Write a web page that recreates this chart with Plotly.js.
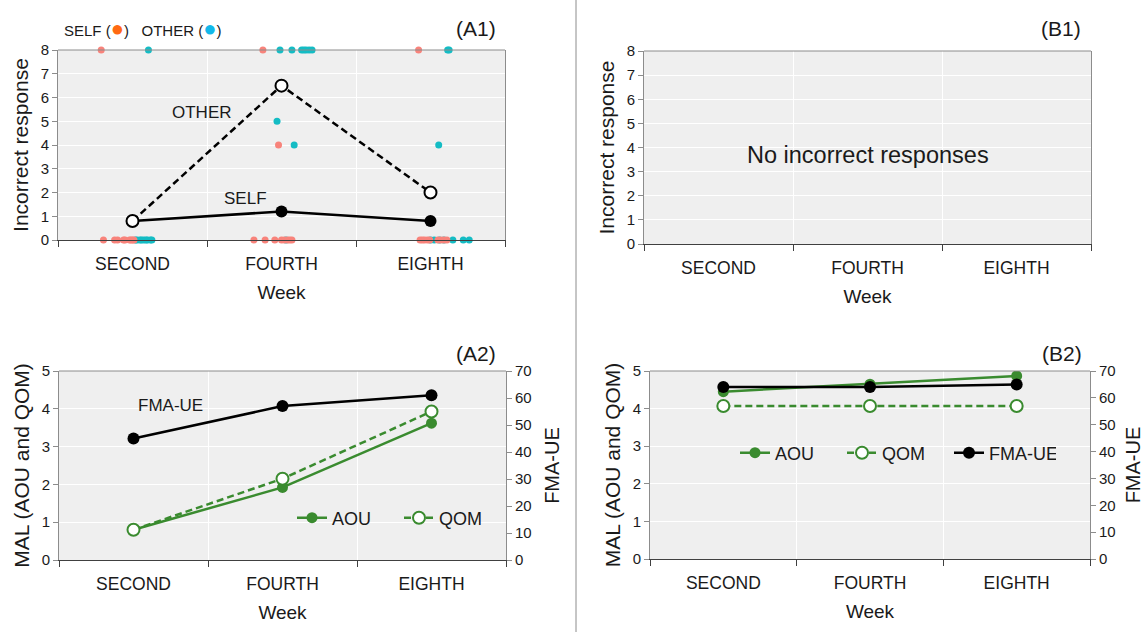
<!DOCTYPE html>
<html>
<head>
<meta charset="utf-8">
<script src="https://cdn.plot.ly/plotly-3.0.1.min.js"></script>
<style>html,body{margin:0;padding:0;background:#fff;}#chart{width:1144px;height:632px;}</style>
</head>
<body>
<div id="chart"></div>
<script>
// ---- data ----
const weeks = ['SECOND', 'FOURTH', 'EIGHTH'];

// (A1) mean incorrect responses
const selfMean = [0.8, 1.2, 0.8];
const otherMean = [0.8, 6.5, 2.0];

// (A1) individual responses: week index, horizontal jitter, value
const selfDotWeek   = [0,0,0,0,0,0,0,0,0,0, 1,1,1,1,1,1,1,1,1,1, 2,2,2,2,2,2,2,2,2,2];
const selfDotJitter = [-0.21,-0.195,-0.12,-0.10,-0.06,-0.05,-0.02,-0.01,0.0,0.01,
                       -0.125,-0.02,-0.185,-0.11,-0.045,0.0,0.02,0.04,0.055,0.07,
                       -0.08,-0.07,-0.055,-0.04,-0.02,-0.005,0.05,0.07,0.09,0.11];
const selfDotValue  = [8,0,0,0,0,0,0,0,0,0,
                       8,4,0,0,0,0,0,0,0,0,
                       8,0,0,0,0,0,0,0,0,0];

const otherDotWeek   = [0,0,0,0,0,0,0,0,0,0, 1,1,1,1,1,1,1,1,1,1, 2,2,2,2,2,2,2,2,2,2];
const otherDotJitter = [0.107,0.02,0.03,0.05,0.06,0.075,0.09,0.10,0.12,0.13,
                        -0.01,0.07,0.135,0.15,0.165,0.185,0.205,-0.03,0.085,0.03,
                        0.115,0.125,0.055,0.025,0.15,0.22,0.26,0.0,0.06,0.09];
const otherDotValue  = [8,0,0,0,0,0,0,0,0,0,
                        8,8,8,8,8,8,8,5,4,0,
                        8,8,4,0,0,0,0,0,0,0];

// (A2)
const a2AOU = [0.8, 1.92, 3.62];
const a2QOM = [0.8, 2.15, 3.93];
const a2FMA = [45, 57, 61];

// (B2)
const b2AOU = [4.45, 4.65, 4.87];
const b2QOM = [4.07, 4.07, 4.07];
const b2FMA = [64, 64, 65];

// ---- styling ----
const FONT = 'Liberation Sans, Arial, sans-serif';
const GREEN = '#3a8b2f';
const SELF_DOT = '#f8837b';
const OTHER_DOT = '#14bcc4';
const idx = [0, 1, 2];

const traces = [];
// A1 dots
traces.push({
  x: otherDotWeek.map((w, i) => w + otherDotJitter[i]), y: otherDotValue,
  xaxis: 'x', yaxis: 'y', mode: 'markers', type: 'scatter', cliponaxis: false,
  marker: {color: OTHER_DOT, size: 7}, showlegend: false, hoverinfo: 'skip'
});
traces.push({
  x: selfDotWeek.map((w, i) => w + selfDotJitter[i]), y: selfDotValue,
  xaxis: 'x', yaxis: 'y', mode: 'markers', type: 'scatter', cliponaxis: false,
  marker: {color: SELF_DOT, size: 7}, showlegend: false, hoverinfo: 'skip'
});
// A1 means
traces.push({
  x: idx, y: selfMean, xaxis: 'x', yaxis: 'y', mode: 'lines+markers', type: 'scatter',
  line: {color: '#000', width: 2.5},
  marker: {size: 12, color: '#000'}, showlegend: false
});
traces.push({
  x: idx, y: otherMean, xaxis: 'x', yaxis: 'y', mode: 'lines+markers', type: 'scatter',
  line: {color: '#000', width: 2.5, dash: '7px,4px'},
  marker: {size: 12, color: '#fff', line: {color: '#000', width: 2}}, showlegend: false
});
// B1 invisible anchor trace
traces.push({x: idx, y: [null, null, null], xaxis: 'x2', yaxis: 'y2', mode: 'markers', type: 'scatter', showlegend: false});

// A2
traces.push({
  x: idx, y: a2FMA, xaxis: 'x3', yaxis: 'y4', mode: 'lines+markers', type: 'scatter', name: 'FMA-UE',
  line: {color: '#000', width: 2.5}, marker: {size: 12, color: '#000'}, showlegend: false
});
traces.push({
  x: idx, y: a2AOU, xaxis: 'x3', yaxis: 'y3', mode: 'lines+markers', type: 'scatter', name: 'AOU',
  line: {color: GREEN, width: 2.5}, marker: {size: 11, color: GREEN}, legend: 'legend'
});
traces.push({
  x: idx, y: a2QOM, xaxis: 'x3', yaxis: 'y3', mode: 'lines+markers', type: 'scatter', name: 'QOM',
  line: {color: GREEN, width: 2.5, dash: '7px,4px'}, marker: {size: 12, color: '#fff', line: {color: GREEN, width: 2}}, legend: 'legend'
});

// B2
traces.push({
  x: idx, y: b2AOU, xaxis: 'x4', yaxis: 'y5', mode: 'lines+markers', type: 'scatter', name: 'AOU',
  line: {color: GREEN, width: 2.5}, marker: {size: 11, color: GREEN}, legend: 'legend2'
});
traces.push({
  x: idx, y: b2QOM, xaxis: 'x4', yaxis: 'y5', mode: 'lines+markers', type: 'scatter', name: 'QOM',
  line: {color: GREEN, width: 2.5, dash: '7px,4px'}, marker: {size: 12, color: '#fff', line: {color: GREEN, width: 2}}, legend: 'legend2'
});
traces.push({
  x: idx, y: b2FMA, xaxis: 'x4', yaxis: 'y6', mode: 'lines+markers', type: 'scatter', name: 'FMA-UE',
  line: {color: '#000', width: 2.5}, marker: {size: 12, color: '#000'}, legend: 'legend2'
});

function xAxis(domain, anchor) {
  return {
    domain: domain, anchor: anchor, range: [-0.5, 2.5], fixedrange: true,
    tickmode: 'array', tickvals: idx, ticktext: weeks, ticks: '', showgrid: false, zeroline: false,
    ticklabelstandoff: 8,
    tickfont: {size: 17.5, color: '#1a1a1a'},
    showline: true, linecolor: '#404040', linewidth: 1,
    minor: {tickmode: 'array', tickvals: [-0.5, 0.5, 1.5, 2.5], ticks: 'outside', ticklen: 6,
            tickcolor: '#404040', showgrid: true, gridcolor: '#ffffff', gridwidth: 1},
    title: {text: 'Week', font: {size: 19, color: '#1a1a1a'}, standoff: 12}
  };
}
function yAxis(domain, anchor, range, dtick, title) {
  return {
    domain: domain, anchor: anchor, range: range, dtick: dtick, fixedrange: true,
    showgrid: true, gridcolor: '#ffffff', gridwidth: 1, zeroline: false,
    showline: true, linecolor: '#8c8c8c', linewidth: 1, mirror: true,
    ticks: 'outside', ticklen: 5, tickcolor: '#8c8c8c',
    tickfont: {size: 15, color: '#1a1a1a'},
    title: {text: title, font: {size: 21, color: '#1a1a1a'}, standoff: 6}
  };
}
function yRight(overlay, anchor) {
  return {
    overlaying: overlay, anchor: anchor, side: 'right', range: [0, 70], dtick: 10, fixedrange: true,
    showgrid: false, zeroline: false, showline: true, linecolor: '#8c8c8c', linewidth: 1,
    ticks: 'outside', ticklen: 5, tickcolor: '#8c8c8c',
    tickfont: {size: 15, color: '#1a1a1a'},
    title: {text: 'FMA-UE', font: {size: 20, color: '#1a1a1a'}, standoff: 14}
  };
}

const A1x = [58/1144, 505/1144], A1y = [1-240/632, 1-50/632];
const B1x = [644/1144, 1091/1144], B1y = [1-244/632, 1-51/632];
const A2x = [59/1144, 506/1144], A2y = [1-560/632, 1-371/632];
const B2x = [650/1144, 1090/1144], B2y = [1-559/632, 1-371/632];

function topLine(xr, yr) {
  return {type: 'line', xref: xr + ' domain', yref: yr + ' domain', x0: 0, x1: 1, y0: 1, y1: 1,
          line: {color: '#8c8c8c', width: 1}, layer: 'above'};
}
function panelLabel(text, xpx, ypx) {
  return {text: text, xref: 'paper', yref: 'paper', x: xpx/1144, y: 1 - ypx/632,
          xanchor: 'right', yanchor: 'middle', showarrow: false, font: {size: 21, color: '#1a1a1a'}};
}

const layout = {
  width: 1144, height: 632,
  margin: {l: 0, r: 0, t: 0, b: 0, autoexpand: false},
  paper_bgcolor: '#ffffff', plot_bgcolor: '#efefef',
  font: {family: FONT, color: '#1a1a1a'},
  xaxis: xAxis(A1x, 'y'),
  yaxis: yAxis(A1y, 'x', [0, 8], 1, 'Incorrect response'),
  xaxis2: xAxis(B1x, 'y2'),
  yaxis2: yAxis(B1y, 'x2', [0, 8], 1, 'Incorrect response'),
  xaxis3: xAxis(A2x, 'y3'),
  yaxis3: Object.assign(yAxis(A2y, 'x3', [0, 5], 1, 'MAL (AOU and QOM)'), {mirror: false}),
  yaxis4: yRight('y3', 'x3'),
  xaxis4: xAxis(B2x, 'y5'),
  yaxis5: Object.assign(yAxis(B2y, 'x4', [0, 5], 1, 'MAL (AOU and QOM)'), {mirror: false}),
  yaxis6: yRight('y5', 'x4'),
  legend: {orientation: 'h', x: 292/1144, y: 1 - 518/632, xanchor: 'left', yanchor: 'middle',
           bgcolor: 'rgba(0,0,0,0)', font: {size: 18, color: '#1a1a1a'}, itemwidth: 30,
           entrywidth: 62, entrywidthmode: 'pixels'},
  legend2: {orientation: 'h', x: 735/1144, y: 1 - 453/632, xanchor: 'left', yanchor: 'middle',
            bgcolor: 'rgba(0,0,0,0)', font: {size: 18, color: '#1a1a1a'}, itemwidth: 30,
            entrywidth: 62, entrywidthmode: 'pixels'},
  shapes: [
    topLine('x', 'y'), topLine('x2', 'y2'), topLine('x3', 'y3'), topLine('x4', 'y5'),
    {type: 'line', xref: 'paper', yref: 'paper', x0: 576/1144, x1: 576/1144, y0: 0, y1: 1,
     line: {color: '#8c8c8c', width: 1}}
  ],
  annotations: [
    {text: 'SELF (<span style="color:#ff6a13;font-size:22px">●</span>)   OTHER (<span style="color:#12b8ea;font-size:22px">●</span>)',
     xref: 'paper', yref: 'paper', x: 62/1144, y: 1 - 28/632, xanchor: 'left', yanchor: 'middle',
     showarrow: false, font: {size: 15, color: '#1a1a1a'}},
    panelLabel('(A1)', 498, 28),
    panelLabel('(B1)', 1083, 28),
    panelLabel('(A2)', 498, 353),
    panelLabel('(B2)', 1084, 353),
    {text: 'OTHER', xref: 'x', yref: 'y', x: 0.466, y: 5.35, showarrow: false, font: {size: 17, color: '#1a1a1a'}},
    {text: 'SELF', xref: 'x', yref: 'y', x: 0.755, y: 1.73, showarrow: false, font: {size: 17, color: '#1a1a1a'}},
    {text: 'No incorrect responses', xref: 'x2', yref: 'y2', x: 1, y: 3.7, showarrow: false, font: {size: 23.5, color: '#1a1a1a'}},
    {text: 'FMA-UE', xref: 'x3', yref: 'y3', x: 0.245, y: 4.1, showarrow: false, font: {size: 17, color: '#1a1a1a'}}
  ]
};

Plotly.newPlot('chart', traces, layout, {displayModeBar: false, staticPlot: true});
</script>
</body>
</html>
